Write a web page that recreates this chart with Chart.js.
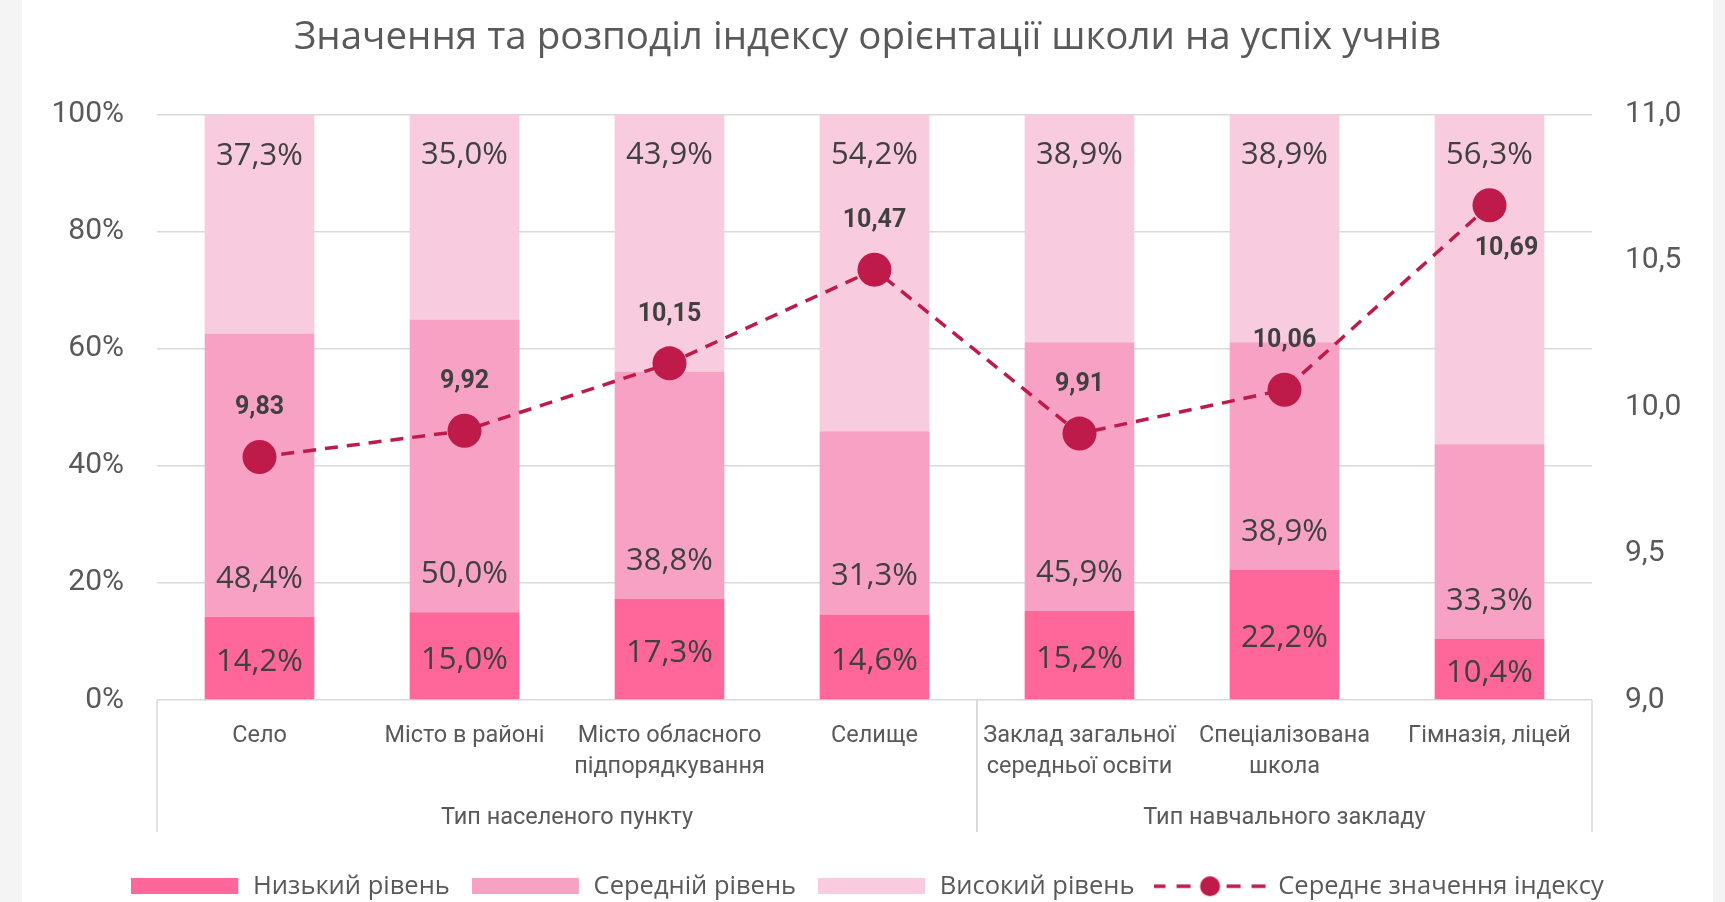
<!DOCTYPE html>
<html lang="uk">
<head>
<meta charset="utf-8">
<title>Індекс орієнтації школи на успіх учнів</title>
<script src="https://cdn.jsdelivr.net/npm/chart.js@4.4.1/dist/chart.umd.min.js"></script>
<style>
  html, body { margin: 0; padding: 0; background: #f4f4f4; overflow: hidden; }
  #wrap { position: absolute; left: 22px; top: 0; width: 1691px; height: 909px; background: #fff; }
</style>
</head>
<body>
<div id="wrap"><canvas id="chart" width="1691" height="909"></canvas></div>
<script>
// ── Data ───────────────────────────────────────────────────────────
const categories = [
  ['Село'],
  ['Місто в районі'],
  ['Місто обласного', 'підпорядкування'],
  ['Селище'],
  ['Заклад загальної', 'середньої освіти'],
  ['Спеціалізована', 'школа'],
  ['Гімназія, ліцей'],
];
const groupLabels = ['Тип населеного пункту', 'Тип навчального закладу'];
const groupSizes = [4, 3];
const seriesNames = ['Низький рівень', 'Середній рівень', 'Високий рівень', 'Середнє значення індексу'];
const lowLevel = [14.2, 15.0, 17.3, 14.6, 15.2, 22.2, 10.4];
const midLevel = [48.4, 50.0, 38.8, 31.3, 45.9, 38.9, 33.3];
const highLevel = [37.3, 35.0, 43.9, 54.2, 38.9, 38.9, 56.3];
const meanIndex = [9.83, 9.92, 10.15, 10.47, 9.91, 10.06, 10.69];
const pctTicks = [0, 20, 40, 60, 80, 100];
const indexTicks = [9.0, 9.5, 10.0, 10.5, 11.0];

// ── Style ──────────────────────────────────────────────────────────
const FONT = 'Roboto, "Liberation Sans", sans-serif';
const FONT_WIDE = '"Open Sans", Roboto, sans-serif';
const TEXT = '#595959';
const LABEL = '#404040';
const GRID = '#d9d9d9';
const C_LOW = '#ff6699';
const C_MID = '#f7a1c5';
const C_HIGH = '#f8ccde';
const C_LINE = '#be1a4a';

const fmtPct = v => v.toFixed(1).replace('.', ',') + '%';
const fmtIdx = (v, d) => v.toFixed(d).replace('.', ',');

// legend icons: drawn left-aligned in a slightly wider canvas so the gap to the text matches
function swatch(color) {
  const c = document.createElement('canvas');
  c.width = 109; c.height = 16;
  const g = c.getContext('2d');
  g.fillStyle = color;
  g.fillRect(0, 0, 107, 16);
  return c;
}

function lineSwatch() {
  const c = document.createElement('canvas');
  c.width = 115; c.height = 24;
  const g = c.getContext('2d');
  g.strokeStyle = C_LINE;
  g.lineWidth = 3.5;
  g.setLineDash([14, 11]);
  g.lineDashOffset = 2;
  g.beginPath(); g.moveTo(0, 12); g.lineTo(113, 12); g.stroke();
  g.fillStyle = C_LINE;
  g.beginPath(); g.arc(56.5, 12, 10, 0, Math.PI * 2); g.fill();
  return c;
}

const legendIcons = [swatch(C_LOW), swatch(C_MID), swatch(C_HIGH), lineSwatch()];

// value labels on bars and on the index line
const valueLabels = {
  id: 'valueLabels',
  afterDatasetsDraw(chart) {
    const { ctx } = chart;
    ctx.save();
    ctx.textAlign = 'center';
    ctx.textBaseline = 'middle';
    ctx.fillStyle = LABEL;
    ctx.font = `31px ${FONT_WIDE}`;
    [0, 1, 2].forEach(di => {
      const values = chart.data.datasets[di].data;
      chart.getDatasetMeta(di).data.forEach((bar, i) => {
        const top = Math.min(bar.y, bar.base);
        const bottom = Math.max(bar.y, bar.base);
        let y = (top + bottom) / 2 + 4;
        if (di === 1) y = bottom - 38;
        if (di === 2) y = top + 41;
        ctx.fillText(fmtPct(values[i]), bar.x, y);
      });
    });
    ctx.font = `bold 25px ${FONT}`;
    const pts = chart.getDatasetMeta(3).data;
    pts.forEach((pt, i) => {
      const last = i === pts.length - 1;
      const x = last ? pt.x + 17 : pt.x;
      const y = last ? pt.y + 43 : pt.y - 49;
      ctx.fillText(fmtIdx(meanIndex[i], 2), x, y);
    });
    ctx.restore();
  }
};

// second level of the category axis: group names and separators
const groupAxis = {
  id: 'groupAxis',
  afterDraw(chart) {
    const { ctx } = chart;
    const xs = chart.scales.x;
    const step = xs.getPixelForValue(1) - xs.getPixelForValue(0);
    const top = xs.top;
    ctx.save();
    ctx.strokeStyle = GRID;
    ctx.lineWidth = 1.5;
    ctx.fillStyle = TEXT;
    ctx.font = `23.5px ${FONT}`;
    ctx.textAlign = 'center';
    ctx.textBaseline = 'middle';
    let start = 0;
    groupSizes.forEach((n, g) => {
      const left = xs.getPixelForValue(start) - step / 2;
      const right = xs.getPixelForValue(start + n - 1) + step / 2;
      [left, right].forEach(x => {
        ctx.beginPath(); ctx.moveTo(x, top); ctx.lineTo(x, top + 132); ctx.stroke();
      });
      ctx.fillText(groupLabels[g], (left + right) / 2, top + 118);
      start += n;
    });
    ctx.restore();
  }
};

new Chart(document.getElementById('chart'), {
  type: 'bar',
  data: {
    labels: categories,
    datasets: [
      { label: seriesNames[0], data: lowLevel, backgroundColor: C_LOW, yAxisID: 'y', order: 1 },
      { label: seriesNames[1], data: midLevel, backgroundColor: C_MID, yAxisID: 'y', order: 1 },
      { label: seriesNames[2], data: highLevel, backgroundColor: C_HIGH, yAxisID: 'y', order: 1 },
      {
        type: 'line', label: seriesNames[3], data: meanIndex, yAxisID: 'y1', order: 0,
        borderColor: C_LINE, borderWidth: 3.5, borderDash: [13, 9], tension: 0,
        pointRadius: 17, pointBackgroundColor: C_LINE, pointBorderWidth: 0,
      },
    ],
  },
  options: {
    responsive: false, animation: false, devicePixelRatio: 1,
    layout: { padding: 0 },
    datasets: { bar: { categoryPercentage: 1, barPercentage: 0.535 } },
    plugins: {
      tooltip: { enabled: false },
      title: {
        display: true,
        text: 'Значення та розподіл індексу орієнтації школи на успіх учнів',
        color: TEXT, font: { family: FONT_WIDE, size: 38.5, weight: 'normal', lineHeight: 1.2 },
        padding: { top: 14.9, bottom: 53.4 },
      },
      legend: {
        position: 'bottom',
        labels: {
          usePointStyle: true, pointStyleWidth: 109, padding: 22,
          color: TEXT, font: { family: FONT_WIDE, size: 25.5 },
          generateLabels(chart) {
            const items = Chart.defaults.plugins.legend.labels.generateLabels(chart);
            items.forEach(it => { it.pointStyle = legendIcons[it.datasetIndex]; });
            return items.sort((a, b) => a.datasetIndex - b.datasetIndex);
          },
        },
      },
    },
    scales: {
      x: {
        stacked: true,
        grid: { display: false, drawTicks: false },
        border: { display: false },
        ticks: { color: TEXT, font: { family: FONT, size: 23.5, lineHeight: 1.32 }, padding: 21, maxRotation: 0, autoSkip: false },
        afterFit: s => { s.height = 151.5; },
      },
      y: {
        stacked: true, min: 0, max: 100, position: 'left',
        grid: { color: GRID, lineWidth: 1.5, drawTicks: false },
        border: { display: false },
        afterBuildTicks: s => { s.ticks = pctTicks.map(v => ({ value: v })); },
        ticks: { color: TEXT, font: { family: FONT, size: 30 }, padding: 33, callback: v => v + '%' },
        afterFit: s => { s.width = 135; },
      },
      y1: {
        min: 9, max: 11, position: 'right',
        grid: { display: false, drawTicks: false },
        border: { display: false },
        afterBuildTicks: s => { s.ticks = indexTicks.map(v => ({ value: v })); },
        ticks: { color: TEXT, font: { family: FONT, size: 30 }, padding: 33, callback: v => fmtIdx(v, 1) },
        afterFit: s => { s.width = 121; },
      },
    },
  },
  plugins: [valueLabels, groupAxis],
});
</script>
</body>
</html>
